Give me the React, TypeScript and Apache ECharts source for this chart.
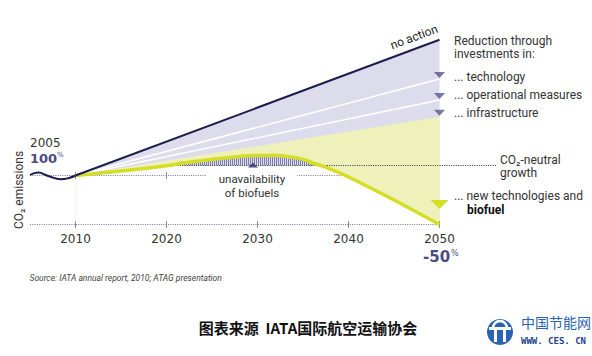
import React, { useEffect, useRef } from 'react';
import * as echarts from 'echarts';

// ---- data ----
const historyYears = [2005, 2005.9, 2007, 2008.4, 2009.3, 2010];
const historyValues = [100.5, 103, 99.5, 96.2, 97.5, 100];

const scenarioYears = [2010, 2050];
const noActionValues = [100, 238.5];
const technologyValues = [100, 198.5];
const operationalValues = [100, 177];
const infrastructureValues = [100, 160];

const biofuelYears = [2010, 2015, 2020, 2022, 2025, 2028, 2030, 2032, 2034, 2035, 2036, 2037, 2038, 2040, 2045, 2050];
const biofuelValues = [100, 104.5, 110, 113, 116.5, 119.5, 120.5, 120.5, 118.5, 116.5, 113, 110, 106.5, 98.5, 75, 50];

const neutralLevel = 110.2;
const neutralFromYear = 2020.2;
const neutralToYear = 2037.1;
const neutralLineEndYear = 2056.3;
const baseLevel = 100;
const baseLineYears = [2005, 2040];
const targetLevel = 50;
const axisLineYears = [2005, 2050];
const axisYears = [2010, 2020, 2030, 2040, 2050];
const baseTickYears = [2010, 2020];

const NAVY = '#1c1c4e';
const SLATE = '#4b4b80';
const LAVENDER = '#dcdcec';
const LIGHT_YELLOW = '#eff1bb';
const YELLOW = '#d3de24';

const zip = (xs: number[], ys: number[]) => xs.map((x, i) => [x, ys[i]]);

export default function App() {
  const ref = useRef<HTMLDivElement>(null);
  useEffect(() => {
    if (!ref.current) return;
    const chart = echarts.init(ref.current, null, { renderer: 'svg' });

    const c = document.createElement('canvas');
    c.width = 2;
    c.height = 2;
    const ctx = c.getContext('2d')!;
    ctx.fillStyle = '#dcdcec';
    ctx.fillRect(0, 0, 2, 2);
    ctx.fillStyle = '#7c7cae';
    ctx.fillRect(0, 0, 1, 2);
    const hatch: any = { image: c.toDataURL(), imageWidth: 2, imageHeight: 2, repeat: 'repeat' };

    const gapData = [[neutralFromYear, neutralLevel]].concat(
      zip(biofuelYears, biofuelValues).filter((p) => p[0] > neutralFromYear && p[0] < neutralToYear && p[1] > neutralLevel),
      [[neutralToYear, neutralLevel]]
    );

    const base = { type: 'line', symbol: 'none', silent: true, clip: false };
    const labelFont = 'Roboto';
    const dotted = () => ({ color: '#76769a', width: 1, type: [1, 1.3] });
    const tick = () => ({ type: 'scatter', z: 6, silent: true, clip: false, symbol: 'rect', symbolSize: [1, 7], itemStyle: { color: '#6e6e84' } });

    chart.setOption({
      animation: false,
      grid: { left: 30, right: 61.5, top: 28.5, bottom: 126.6 },
      xAxis: {
        type: 'value',
        min: 2005,
        max: 2060,
        axisLine: { show: false },
        axisTick: { show: false },
        splitLine: { show: false },
        axisLabel: {
          customValues: axisYears,
          formatter: (v: number) => String(v),
          margin: 4,
          color: '#333',
          fontSize: 12,
          fontFamily: 'DejaVu Sans',
        },
      },
      yAxis: { type: 'value', min: 45, max: 250, show: false },
      series: [
        { ...base, z: 1, data: zip(scenarioYears, noActionValues), lineStyle: { opacity: 0 }, areaStyle: { color: LAVENDER, opacity: 1, origin: 'start' } },
        { ...base, z: 2, data: zip(scenarioYears, infrastructureValues), lineStyle: { opacity: 0 }, areaStyle: { color: LIGHT_YELLOW, opacity: 1, origin: 'start' } },
        { ...base, z: 3, data: zip(biofuelYears, biofuelValues), smooth: 0.4, lineStyle: { opacity: 0 }, areaStyle: { color: '#ffffff', opacity: 1, origin: 'start' } },
        { ...base, z: 4, data: gapData, smooth: 0.4, lineStyle: { opacity: 0 }, areaStyle: { color: hatch, opacity: 1, origin: neutralLevel } },
        { ...base, z: 5, data: zip(scenarioYears, technologyValues), lineStyle: { color: '#ffffff', width: 1.5 } },
        { ...base, z: 5, data: zip(scenarioYears, operationalValues), lineStyle: { color: '#ffffff', width: 1.5 } },
        { ...base, z: 6, data: baseLineYears.map((y) => [y, baseLevel]), lineStyle: dotted() },
        { ...base, z: 6, data: [[neutralFromYear, neutralLevel], [neutralLineEndYear, neutralLevel]], lineStyle: { color: '#333', width: 1, type: [1, 1.3] } },
        { ...base, z: 6, data: axisLineYears.map((y) => [y, targetLevel]), lineStyle: dotted() },
        { ...tick(), data: axisYears.map((y) => [y, targetLevel]) },
        { ...tick(), data: baseTickYears.map((y) => [y, baseLevel]) },
        { ...base, z: 7, data: zip(biofuelYears, biofuelValues), smooth: 0.4, lineStyle: { color: YELLOW, width: 3.5 } },
        { ...base, z: 8, data: zip(historyYears, historyValues), smooth: 0.5, lineStyle: { color: NAVY, width: 2 } },
        { ...base, z: 8, data: zip(scenarioYears, noActionValues), lineStyle: { color: NAVY, width: 2 } },
        {
          type: 'scatter',
          z: 9,
          silent: true,
          clip: false,
          symbol: 'triangle',
          symbolRotate: 180,
          symbolSize: [11, 6],
          symbolOffset: [0, -4],
          itemStyle: { color: '#56568a' },
          data: [technologyValues, operationalValues, infrastructureValues].map((v) => [scenarioYears[1], v[1]]),
        },
      ],
      graphic: [
        { type: 'text', z: 100, x: 414, y: 37, rotation: 0.358, style: { text: 'no action', fontFamily: labelFont, fontSize: 12, fill: '#222', align: 'center', verticalAlign: 'middle' } },
        { type: 'text', z: 100, x: 454, y: 41, style: { text: 'Reduction through', fontFamily: labelFont, fontSize: 12, fill: '#333', verticalAlign: 'middle' } },
        { type: 'text', z: 100, x: 454, y: 54, style: { text: 'investments in:', fontFamily: labelFont, fontSize: 12, fill: '#333', verticalAlign: 'middle' } },
        { type: 'text', z: 100, x: 454, y: 76.5, style: { text: '... technology', fontFamily: labelFont, fontSize: 12, fill: '#333', verticalAlign: 'middle' } },
        { type: 'text', z: 100, x: 454, y: 94.5, style: { text: '... operational measures', fontFamily: labelFont, fontSize: 12, fill: '#333', verticalAlign: 'middle' } },
        { type: 'text', z: 100, x: 454, y: 112.5, style: { text: '... infrastructure', fontFamily: labelFont, fontSize: 12, fill: '#333', verticalAlign: 'middle' } },
        { type: 'text', z: 100, x: 500, y: 160, style: { text: 'CO₂-neutral', fontFamily: labelFont, fontSize: 12, fill: '#333', verticalAlign: 'middle' } },
        { type: 'text', z: 100, x: 500, y: 173, style: { text: 'growth', fontFamily: labelFont, fontSize: 12, fill: '#333', verticalAlign: 'middle' } },
        { type: 'text', z: 100, x: 454, y: 195.5, style: { text: '... new technologies and', fontFamily: labelFont, fontSize: 12, fill: '#333', verticalAlign: 'middle' } },
        { type: 'text', z: 100, x: 467, y: 209.5, style: { text: 'biofuel', fontFamily: labelFont, fontSize: 12, fontWeight: 'bold', fill: '#111', verticalAlign: 'middle' } },
        { type: 'polygon', z: 100, shape: { points: [[430.5, 200], [448.5, 200], [439.5, 209]] }, style: { fill: YELLOW } },
        { type: 'text', z: 100, x: 252, y: 179, style: { text: 'unavailability', fontFamily: labelFont, fontSize: 11.5, fill: '#333', align: 'center', verticalAlign: 'middle', backgroundColor: '#fff', padding: [0, 12] } },
        { type: 'text', z: 100, x: 252, y: 192.5, style: { text: 'of biofuels', fontFamily: labelFont, fontSize: 11.5, fill: '#333', align: 'center', verticalAlign: 'middle' } },
        { type: 'polygon', z: 100, shape: { points: [[248, 167.5], [258, 167.5], [253, 162.5]] }, style: { fill: SLATE } },
        { type: 'text', z: 100, x: 30, y: 143, style: { text: '2005', fontFamily: 'DejaVu Sans', fontSize: 12, fill: '#333', verticalAlign: 'middle' } },
        { type: 'text', z: 100, x: 30, y: 158, style: { text: '100', fontFamily: 'DejaVu Sans', fontSize: 13, fontWeight: 'bold', fill: SLATE, verticalAlign: 'middle' } },
        { type: 'text', z: 100, x: 57, y: 154.5, style: { text: '%', fontFamily: 'DejaVu Sans', fontSize: 7, fill: SLATE, verticalAlign: 'middle' } },
        { type: 'text', z: 100, x: 423, y: 256.5, style: { text: '-50', fontFamily: 'DejaVu Sans', fontSize: 15, fontWeight: 'bold', fill: SLATE, verticalAlign: 'middle' } },
        { type: 'text', z: 100, x: 451, y: 253, style: { text: '%', fontFamily: 'DejaVu Sans', fontSize: 8, fill: SLATE, verticalAlign: 'middle' } },
        { type: 'text', z: 100, x: 19, y: 190, rotation: Math.PI / 2, style: { text: 'CO₂ emissions', fontFamily: labelFont, fontSize: 12, fill: '#333', align: 'center', verticalAlign: 'middle' } },
        { type: 'text', z: 100, x: 29.5, y: 277.5, style: { text: 'Source: IATA annual report, 2010; ATAG presentation', fontFamily: labelFont, fontStyle: 'italic', fontSize: 8.5, fill: '#444', verticalAlign: 'middle' } },
        { type: 'text', z: 100, x: 308, y: 327, style: { text: '图表来源  IATA国际航空运输协会', fontFamily: '"Noto Sans CJK SC"', fontSize: 15, fontWeight: 'bold', fill: '#111', align: 'center', verticalAlign: 'middle' } },
        { type: 'circle', z: 100, shape: { cx: 500, cy: 332, r: 13 }, style: { fill: '#2b62b6' } },
        { type: 'rect', z: 101, shape: { x: 489, y: 327, width: 22, height: 3 }, style: { fill: '#fff' } },
        { type: 'rect', z: 101, shape: { x: 494, y: 330, width: 3, height: 12 }, style: { fill: '#fff' } },
        { type: 'rect', z: 101, shape: { x: 503, y: 330, width: 3, height: 12 }, style: { fill: '#fff' } },
        { type: 'arc', z: 101, shape: { cx: 500, cy: 328, r: 7, startAngle: Math.PI, endAngle: 2 * Math.PI }, style: { stroke: '#fff', lineWidth: 2.5, fill: 'none' } },
        { type: 'text', z: 100, x: 521, y: 322, style: { text: '中国节能网', fontFamily: '"Noto Sans CJK SC"', fontSize: 14, fill: '#2b62b6', verticalAlign: 'middle' } },
        { type: 'text', z: 100, x: 521, y: 340.5, style: { text: 'WWW. CES. CN', fontFamily: 'DejaVu Sans Mono', fontSize: 9, fontWeight: 'bold', fill: '#1d3f8f', verticalAlign: 'middle' } },
      ],
    });
    return () => chart.dispose();
  }, []);
  return <div ref={ref} style={{ position: 'absolute', left: 0, top: 0, width: 592, height: 356, background: '#fff' }} />;
}
